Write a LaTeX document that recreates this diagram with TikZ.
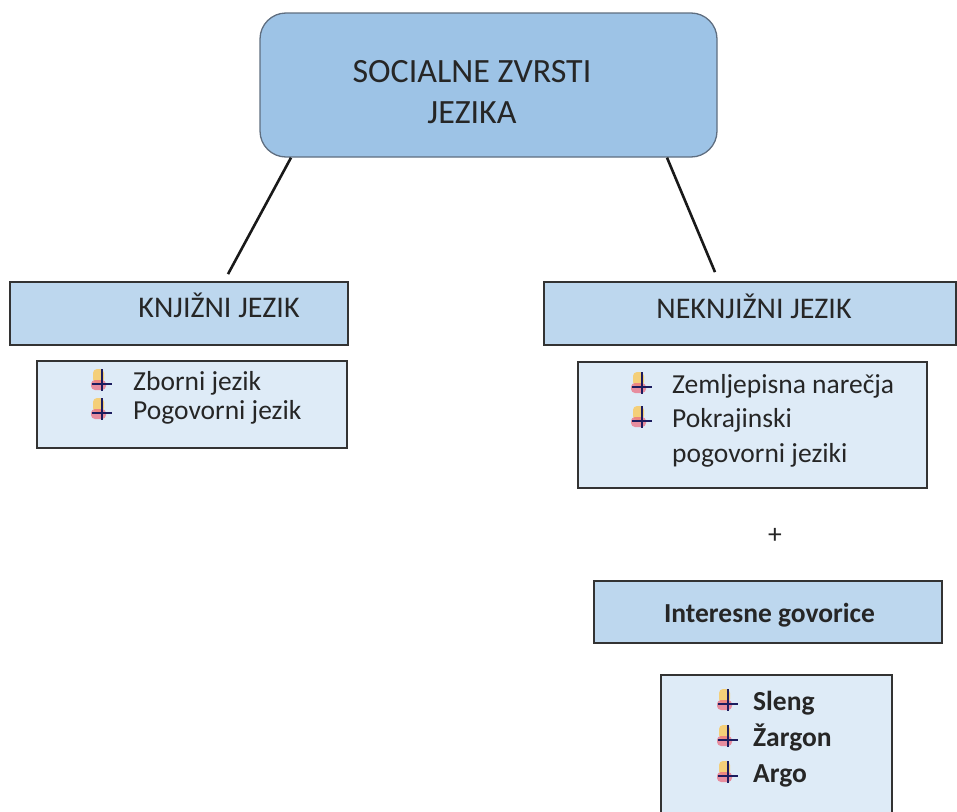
\documentclass[tikz,border=0pt]{standalone}
\usepackage{fontspec}
\setmainfont{Carlito}
\usepackage{tikz}
\usetikzlibrary{calc}
\tikzset{>=latex}
\definecolor{topblue}{RGB}{157, 195, 230}
\definecolor{midblue}{RGB}{189, 215, 238}
\definecolor{lowblue}{RGB}{222, 235, 247}
\definecolor{edgegray}{RGB}{95, 110, 128}
\definecolor{inkblue}{RGB}{28, 28, 95}
\definecolor{bulyellow}{RGB}{250, 200, 90}
\definecolor{bulpink}{RGB}{235, 110, 130}

\begin{document}
\begin{tikzpicture}[
    x = 1pt, y = -1pt,
    topbox/.style = {draw = edgegray, line width = 1.3pt, fill = topblue, rounded corners = 26pt, inner sep = 0pt, minimum width = 457pt, minimum height = 144pt},
    headbox/.style = {draw = black!80, line width = 1.8pt, fill = midblue, inner sep = 0pt},
    listbox/.style = {draw = black!80, line width = 1.8pt, fill = lowblue, inner sep = 0pt},
    big/.style = {font = \fontsize{34}{40}\selectfont, text = black!85, inner sep = 0pt, anchor = base},
    head/.style = {font = \fontsize{30}{36}\selectfont, text = black!85, inner sep = 0pt, anchor = base},
    item/.style = {font = \fontsize{27.5}{33}\selectfont, text = black!85, inner sep = 0pt, anchor = base west},
    link/.style = {line width = 2.6pt, black!90},
    bul/.pic = {
        \fill[bulyellow, opacity = 0.8, rounded corners = 4pt] (-9,-11) rectangle (2,3);
        \fill[bulpink, opacity = 0.75, rounded corners = 4pt] (-11,0) rectangle (4,10);
        \draw[inkblue, line width = 2.8pt] (0,-11) -- (0,11) (-10,4) -- (10,4);
    },
]
\useasboundingbox (0,0) rectangle (957,811);
\clip (0,0) rectangle (957,811);

% title
\node[topbox] (top) at (488.5, 85) {};
\node[big] (t1) at (472, 82) {SOCIALNE ZVRSTI};
\node[big] (t2) at (472, 123) {JEZIKA};

% two branches
\node[headbox, minimum width = 338pt, minimum height = 63pt] (knj) at (179, 313.5) {};
\node[head] (knjtxt) at (219, 317) {KNJIŽNI JEZIK};
\node[headbox, minimum width = 412pt, minimum height = 63pt] (nek) at (750, 313.5) {};
\node[head] (nektxt) at (754, 318) {NEKNJIŽNI JEZIK};

\draw[link] ([xshift = -197.5pt]top.south) -- ([xshift = 49pt, yshift = 7pt]knj.north);
\draw[link] ([xshift = 178.5pt]top.south) -- ([xshift = -35pt, yshift = 9pt]nek.north);

% lists
\node[listbox, minimum width = 310pt, minimum height = 87pt] (knjlist) at (192, 404.5) {};
\pic at (102, 380) {bul};
\node[item] (zbo) at (133, 390) {Zborni jezik};
\pic at (102, 409) {bul};
\node[item] (pog) at (133, 419) {Pogovorni jezik};

\node[listbox, minimum width = 349pt, minimum height = 126pt] (neklist) at (752.5, 425) {};
\pic at (642, 383) {bul};
\node[item] (zem) at (672, 393) {Zemljepisna narečja};
\pic at (642, 417) {bul};
\node[item] (pok) at (672, 427) {Pokrajinski};
\node[item] (pok2) at (672, 462) {pogovorni jeziki};

\node[item, anchor = center] (plus) at (775, 536) {+};

% interesne govorice
\node[headbox, minimum width = 348pt, minimum height = 62pt] (int) at (768, 612) {};
\node[head, font = \fontsize{27.5}{33}\selectfont\bfseries] (inttxt) at (769.5, 622) {Interesne govorice};

\node[listbox, minimum width = 231pt, minimum height = 155pt] (slist) at (776.5, 752.5) {};
\pic at (728, 700) {bul};
\node[item, font = \fontsize{27.5}{33}\selectfont\bfseries] (sle) at (753, 710) {Sleng};
\pic at (728, 736) {bul};
\node[item, font = \fontsize{27.5}{33}\selectfont\bfseries] (zar) at (753, 746) {Žargon};
\pic at (728, 772) {bul};
\node[item, font = \fontsize{27.5}{33}\selectfont\bfseries] (arg) at (753, 782) {Argo};
\end{tikzpicture}
\end{document}
